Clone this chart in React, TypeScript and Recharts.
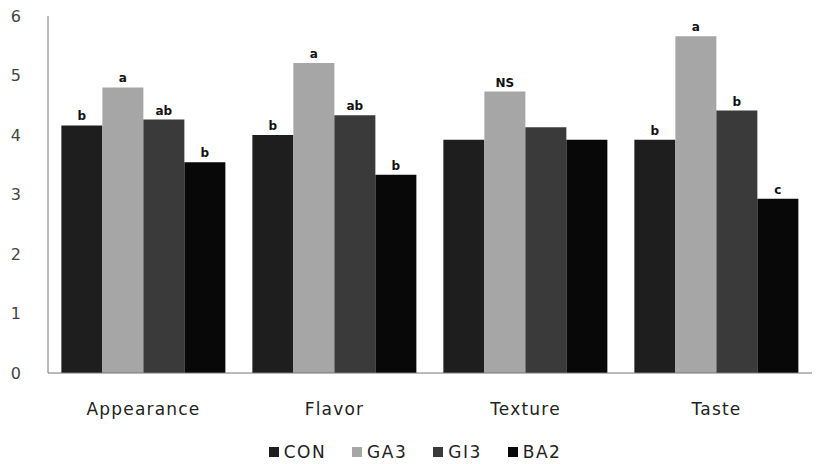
import { BarChart, Bar, XAxis, YAxis, Legend, LabelList } from "recharts";

const categories = ["Appearance", "Flavor", "Texture", "Taste"];
const conValues = [4.16, 4.0, 3.92, 3.92];
const ga3Values = [4.8, 5.21, 4.73, 5.66];
const gi3Values = [4.26, 4.33, 4.13, 4.41];
const ba2Values = [3.54, 3.33, 3.92, 2.93];
const conLabels = ["b", "b", "", "b"];
const ga3Labels = ["a", "a", "NS", "a"];
const gi3Labels = ["ab", "ab", "", "b"];
const ba2Labels = ["b", "b", "", "c"];
const yTicks = [0, 1, 2, 3, 4, 5, 6];

const data = categories.map((name, i) => ({
  name,
  CON: conValues[i],
  GA3: ga3Values[i],
  GI3: gi3Values[i],
  BA2: ba2Values[i],
  conLabel: conLabels[i],
  ga3Label: ga3Labels[i],
  gi3Label: gi3Labels[i],
  ba2Label: ba2Labels[i],
}));

const series = [
  { key: "CON", label: "conLabel", color: "#1e1e1e" },
  { key: "GA3", label: "ga3Label", color: "#a6a6a6" },
  { key: "GI3", label: "gi3Label", color: "#3a3a3a" },
  { key: "BA2", label: "ba2Label", color: "#080808" },
];

const FONT = "'DejaVu Sans', sans-serif";

const CustomLegend = () => (
  <div
    style={{
      display: "flex",
      justifyContent: "center",
      gap: 26,
      fontFamily: FONT,
      fontSize: 17,
      letterSpacing: 1.5,
      color: "#222",
      paddingLeft: 18,
    }}
  >
    {series.map((s) => (
      <span key={s.key} style={{ display: "flex", alignItems: "center" }}>
        <span
          style={{
            display: "inline-block",
            width: 10,
            height: 10,
            background: s.color,
            marginRight: 5,
          }}
        />
        {s.key}
      </span>
    ))}
  </div>
);

export default function App() {
  return (
    <div style={{ position: "absolute", left: 0, top: 0, background: "#fff" }}>
      <BarChart
        width={817}
        height={464}
        data={data}
        margin={{ top: 16, right: 5, bottom: 0, left: 0 }}
        barCategoryGap="7%"
        barGap={0}
      >
        <XAxis
          dataKey="name"
          height={41}
          tickLine={false}
          stroke="#777"
          tickMargin={24}
          tick={{ fill: "#222", fontSize: 17, fontFamily: FONT, letterSpacing: 1.2 }}
        />
        <YAxis
          domain={[0, 6]}
          ticks={yTicks}
          width={48}
          tickLine={false}
          stroke="#777"
          tickMargin={21}
          tick={{ fill: "#444", fontSize: 16, fontFamily: FONT }}
        />
        <Legend
          verticalAlign="bottom"
          height={50}
          content={<CustomLegend />}
          wrapperStyle={{ top: 442 }}
        />
        {series.map((s) => (
          <Bar key={s.key} dataKey={s.key} fill={s.color} isAnimationActive={false}>
            <LabelList
              dataKey={s.label}
              position="top"
              offset={5}
              style={{ fill: "#111", fontSize: 12, fontWeight: "bold", fontFamily: FONT }}
            />
          </Bar>
        ))}
      </BarChart>
    </div>
  );
}
